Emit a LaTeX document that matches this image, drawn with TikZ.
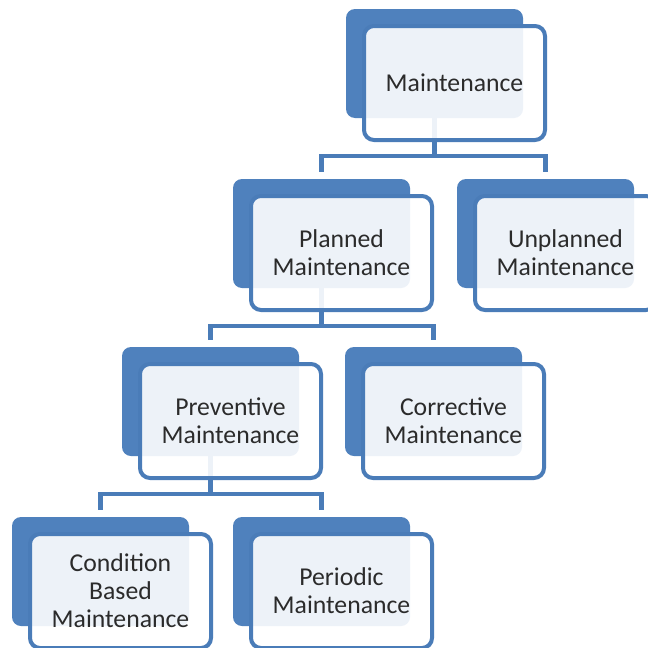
\documentclass[tikz,border=0pt]{standalone}
\usepackage{fontspec}
\setmainfont{Carlito}
\usetikzlibrary{calc}
\definecolor{boxblue}{HTML}{4F81BD}
\definecolor{rimblue}{HTML}{4A7CB8}
\definecolor{inktext}{HTML}{2B2B2B}
\tikzset{
  backbox/.style={fill=boxblue, rounded corners=9pt, minimum width=177pt,
    minimum height=109pt, inner sep=0pt, outer sep=0pt, anchor=north west},
  frontbox/.style={draw=rimblue, line width=4pt, fill=white, fill opacity=0.9,
    text opacity=1, rounded corners=10pt, minimum width=181pt, minimum height=114pt,
    inner sep=0pt, outer sep=0pt, anchor=north west, align=center, text=inktext,
    font=\fontsize{25.7pt}{28pt}\selectfont},
  conn/.style={draw=rimblue, line width=4.5pt},
}
\begin{document}
\begin{tikzpicture}[x=1pt,y=-1pt]
  \useasboundingbox (0,0) rectangle (648,648);
  \clip (0,0) rectangle (648,648);
  \fill[white] (0,0) rectangle (648,648);

  % solid back plates
  \node[backbox] (mB)  at (346,9)   {};
  \node[backbox] (pB)  at (233,179) {};
  \node[backbox] (uB)  at (457,179) {};
  \node[backbox] (prB) at (122,347) {};
  \node[backbox] (cB)  at (345,347) {};
  \node[backbox] (coB) at (12,517)  {};
  \node[backbox] (peB) at (233,517) {};

  % connector ends stop just above each child plate
  \foreach \n in {pB,uB,prB,cB,coB,peB}
    \coordinate (\n T) at ($(\n.north)+(0,-7)$);

  % elbow connectors
  \draw[conn] (mB.south) -- ++(0,38) -| (pBT);
  \draw[conn] (mB.south) -- ++(0,38) -| (uBT);
  \draw[conn] (pB.south) -- ++(0,38) -| (prBT);
  \draw[conn] (pB.south) -- ++(0,38) -| (cBT);
  \draw[conn] (prB.south) -- ++(0,38) -| (coBT);
  \draw[conn] (prB.south) -- ++(0,38) -| (peBT);

  % framed label cards
  \node[frontbox] (mF)  at (364,26)  {Maintenance};
  \node[frontbox] (pF)  at (251,196) {Planned\\Maintenance};
  \node[frontbox] (uF)  at (475,196) {Unplanned\\Maintenance};
  \node[frontbox] (prF) at (140,364) {Preventive\\Maintenance};
  \node[frontbox] (cF)  at (363,364) {Corrective\\Maintenance};
  \node[frontbox] (coF) at (30,534)  {Condition\\Based\\Maintenance};
  \node[frontbox] (peF) at (251,534) {Periodic\\Maintenance};
\end{tikzpicture}
\end{document}
